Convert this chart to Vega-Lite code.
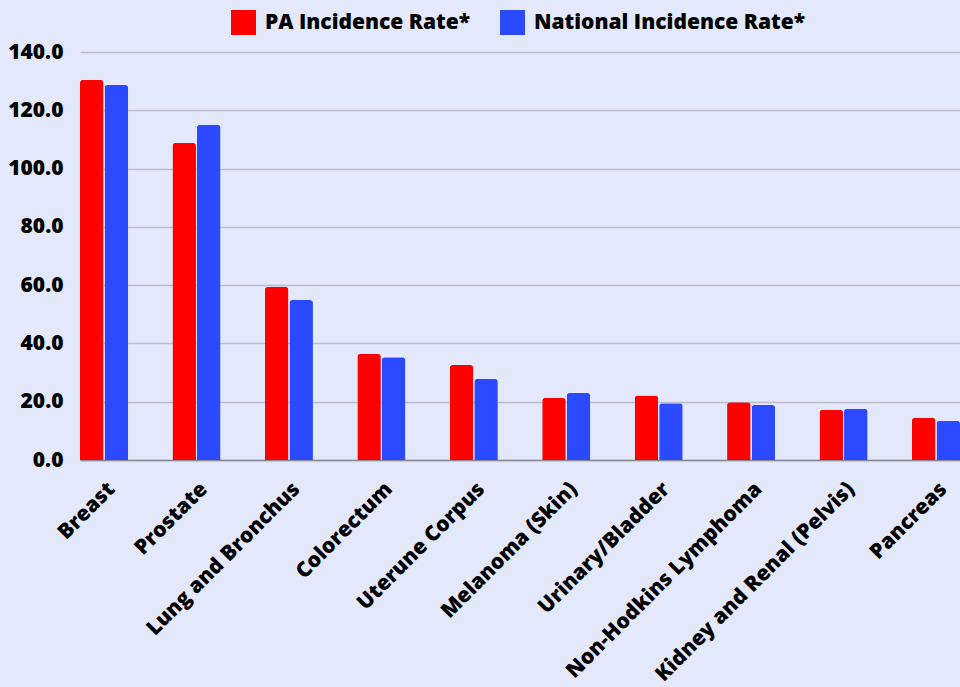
{
  "$schema": "https://vega.github.io/schema/vega-lite/v6.json",
  "autosize": "none",
  "padding": {"left": 80, "top": 52, "right": 0, "bottom": 227},
  "width": 880,
  "height": 408,
  "background": "#e3e8fb",
  "config": {
    "view": {"stroke": null},
    "font": "Open Sans",
    "axis": {"labelFont": "Open Sans", "labelFontWeight": 800, "labelColor": "#000000", "labelLimit": 0}
  },
  "data": {
    "values": [
      {"site": "Breast", "series": "PA Incidence Rate*", "rate": 130.4},
      {"site": "Breast", "series": "National Incidence Rate*", "rate": 128.7},
      {"site": "Prostate", "series": "PA Incidence Rate*", "rate": 108.8},
      {"site": "Prostate", "series": "National Incidence Rate*", "rate": 115.0},
      {"site": "Lung and Bronchus", "series": "PA Incidence Rate*", "rate": 59.4},
      {"site": "Lung and Bronchus", "series": "National Incidence Rate*", "rate": 54.9},
      {"site": "Colorectum", "series": "PA Incidence Rate*", "rate": 36.4},
      {"site": "Colorectum", "series": "National Incidence Rate*", "rate": 35.3},
      {"site": "Uterune Corpus", "series": "PA Incidence Rate*", "rate": 32.6},
      {"site": "Uterune Corpus", "series": "National Incidence Rate*", "rate": 27.8},
      {"site": "Melanoma (Skin)", "series": "PA Incidence Rate*", "rate": 21.3},
      {"site": "Melanoma (Skin)", "series": "National Incidence Rate*", "rate": 23.0},
      {"site": "Urinary/Bladder", "series": "PA Incidence Rate*", "rate": 22.1},
      {"site": "Urinary/Bladder", "series": "National Incidence Rate*", "rate": 19.5},
      {"site": "Non-Hodkins Lymphoma", "series": "PA Incidence Rate*", "rate": 19.8},
      {"site": "Non-Hodkins Lymphoma", "series": "National Incidence Rate*", "rate": 18.9},
      {"site": "Kidney and Renal (Pelvis)", "series": "PA Incidence Rate*", "rate": 17.2},
      {"site": "Kidney and Renal (Pelvis)", "series": "National Incidence Rate*", "rate": 17.6},
      {"site": "Pancreas", "series": "PA Incidence Rate*", "rate": 14.5},
      {"site": "Pancreas", "series": "National Incidence Rate*", "rate": 13.4}
    ]
  },
  "mark": {"type": "bar", "cornerRadiusTopLeft": 3, "cornerRadiusTopRight": 3},
  "encoding": {
    "x": {
      "field": "site",
      "type": "nominal",
      "sort": null,
      "scale": {"paddingInner": 0.48, "paddingOuter": 0},
      "axis": {
        "title": null,
        "labelAngle": -45,
        "labelFontSize": 21,
        "labelPadding": 18,
        "ticks": false,
        "domainColor": "#8a8a96",
        "domainWidth": 1.5
      }
    },
    "xOffset": {
      "field": "series",
      "type": "nominal",
      "sort": ["PA Incidence Rate*", "National Incidence Rate*"],
      "scale": {"paddingInner": 0.04}
    },
    "y": {
      "field": "rate",
      "type": "quantitative",
      "scale": {"domain": [0, 140], "nice": false},
      "axis": {
        "title": null,
        "values": [0, 20, 40, 60, 80, 100, 120, 140],
        "format": ".1f",
        "labelFontSize": 21,
        "labelPadding": 17,
        "ticks": false,
        "domain": false,
        "gridColor": "#bcbccc",
        "gridWidth": 1.3
      }
    },
    "color": {
      "field": "series",
      "type": "nominal",
      "sort": ["PA Incidence Rate*", "National Incidence Rate*"],
      "scale": {"domain": ["PA Incidence Rate*", "National Incidence Rate*"], "range": ["#ff0000", "#2b4aff"]},
      "legend": {
        "title": null,
        "orient": "none",
        "direction": "horizontal",
        "legendX": 151,
        "legendY": -42,
        "symbolType": "square",
        "symbolSize": 625,
        "symbolStrokeWidth": 0,
        "labelFont": "Open Sans",
        "labelFontWeight": 800,
        "labelFontSize": 21,
        "labelLimit": 0,
        "labelColor": "#000000",
        "labelOffset": 9,
        "columnPadding": 29,
        "padding": 0
      }
    }
  }
}
